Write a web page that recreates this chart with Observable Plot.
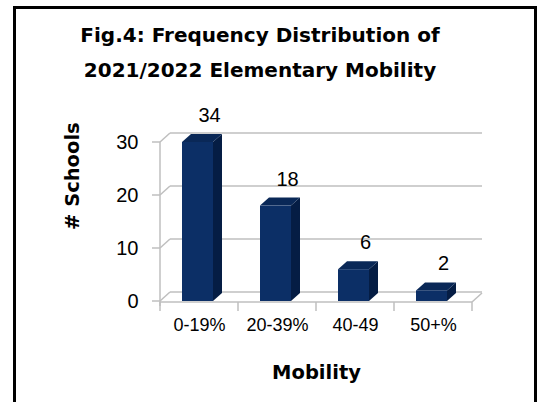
<!DOCTYPE html>
<html>
<head>
<meta charset="utf-8">
<script src="https://cdn.jsdelivr.net/npm/d3@7"></script>
<script src="https://cdn.jsdelivr.net/npm/@observablehq/plot@0.6"></script>
<style>
  html, body { margin: 0; padding: 0; background: #fff; }
  #wrap { position: relative; width: 550px; height: 402px; overflow: hidden; }
  #frame { position: absolute; left: 13px; top: 6px; width: 524px; height: 420px; border: 3px solid #000; box-sizing: border-box; }
  #title { position: absolute; left: 60px; top: 18px; width: 400px; text-align: center;
           font-family: "DejaVu Sans", sans-serif; font-weight: bold; font-size: 20px; line-height: 35px; color: #000; }
  #chart { position: absolute; left: 0; top: 0; }
</style>
</head>
<body>
<div id="wrap">
  <div id="frame"></div>
  <div id="title">Fig.4: Frequency Distribution of<br>2021/2022 Elementary Mobility</div>
  <div id="chart"></div>
</div>
<script>
const categories = ["0-19%", "20-39%", "40-49", "50+%"];
const schools = [34, 18, 6, 2];
const yTicks = [0, 10, 20, 30];
const yMax = 30;

const data = categories.map((c, i) => ({cat: c, n: schools[i]}));
const shown = d => Math.min(d.n, yMax);

const GRID = "#bfbfbf";
const FRONT = "#0c2f66";
const SIDE = "#051d44";
const TOP = "#0a2857";
const depth = {dx: 10, dy: -9};
const barDepth = {dx: 9, dy: -8};
const insetL = 22, insetR = 25;

function bw(x) { return typeof x.bandwidth === "function" ? x.bandwidth() : x.bandwidth; }

// 3D walls, gridlines and ticks
function walls(index, scales, values, dimensions) {
  const {x, y} = scales;
  const {width, marginLeft: ml, marginRight: mr} = dimensions;
  const xr = width - mr;
  const g = d3.create("svg:g").attr("fill", "none").attr("stroke", GRID).attr("stroke-width", 1.5);
  for (const t of yTicks) {
    const yy = y(t);
    g.append("line").attr("x1", ml + depth.dx).attr("x2", xr + depth.dx).attr("y1", yy + depth.dy).attr("y2", yy + depth.dy);
    g.append("line").attr("x1", ml).attr("x2", ml + depth.dx).attr("y1", yy).attr("y2", yy + depth.dy);
    g.append("line").attr("x1", ml - 8).attr("x2", ml).attr("y1", yy).attr("y2", yy);
  }
  const y0 = y(0) + 1;
  g.append("line").attr("x1", ml).attr("x2", ml).attr("y1", y(yMax)).attr("y2", y0 + 4);
  g.append("line").attr("x1", ml).attr("x2", xr).attr("y1", y0).attr("y2", y0);
  g.append("line").attr("x1", xr).attr("x2", xr + depth.dx).attr("y1", y0).attr("y2", y0 + depth.dy);
  const edges = categories.map(c => x(c)).concat([x(categories[categories.length - 1]) + bw(x)]);
  for (const e of edges) {
    g.append("line").attr("x1", e).attr("x2", e).attr("y1", y0).attr("y2", y0 + 9);
  }
  return g.node();
}

// 3D side and top faces of bars
function barFaces(index, scales) {
  const {x, y} = scales;
  const b = bw(x);
  const g = d3.create("svg:g");
  for (const d of data) {
    const x1 = x(d.cat) + insetL;
    const x2 = x(d.cat) + b - insetR;
    const yt = y(shown(d));
    const yb = y(0);
    const {dx, dy} = barDepth;
    g.append("path").attr("fill", SIDE)
      .attr("d", `M${x2},${yb}L${x2},${yt}L${x2 + dx},${yt + dy}L${x2 + dx},${yb + dy}Z`);
    g.append("path").attr("fill", TOP)
      .attr("d", `M${x1},${yt}L${x1 + dx},${yt + dy}L${x2 + dx},${yt + dy}L${x2},${yt}Z`);
  }
  return g.node();
}

const chart = Plot.plot({
  width: 550,
  height: 402,
  marginLeft: 160,
  marginRight: 78,
  marginTop: 142,
  marginBottom: 101,
  x: {type: "band", domain: categories, padding: 0, axis: null},
  y: {domain: [0, yMax], axis: null},
  style: {fontFamily: "'Liberation Sans', sans-serif", fontSize: "18px", background: "transparent", color: "#000", overflow: "visible"},
  marks: [
    walls,
    barFaces,
    Plot.barY(data, {x: "cat", y: shown, fill: FRONT, insetLeft: insetL, insetRight: insetR}),
    Plot.text(yTicks, {y: d => d, text: d => String(d), frameAnchor: "left", dx: -22, textAnchor: "end", fontSize: 20, fill: "#000"}),
    Plot.text(categories, {x: d => d, text: d => d, frameAnchor: "bottom", dy: 29, fontSize: 18, fill: "#000"}),
    Plot.text(data, {x: "cat", y: shown, text: d => String(d.n), dx: 10, dy: -27, fontSize: 20, fill: "#000"}),
    Plot.text(["Mobility"], {text: d => d, frameAnchor: "bottom", dy: 77, fontFamily: "DejaVu Sans", fontWeight: "bold", fontSize: 19.5, fill: "#000"}),
    Plot.text(["# Schools"], {text: d => d, frameAnchor: "left", dx: -88, dy: 8, rotate: -90, fontFamily: "DejaVu Sans", fontWeight: "bold", fontSize: 19.5, fill: "#000"})
  ]
});
document.getElementById("chart").appendChild(chart);
</script>
</body>
</html>
